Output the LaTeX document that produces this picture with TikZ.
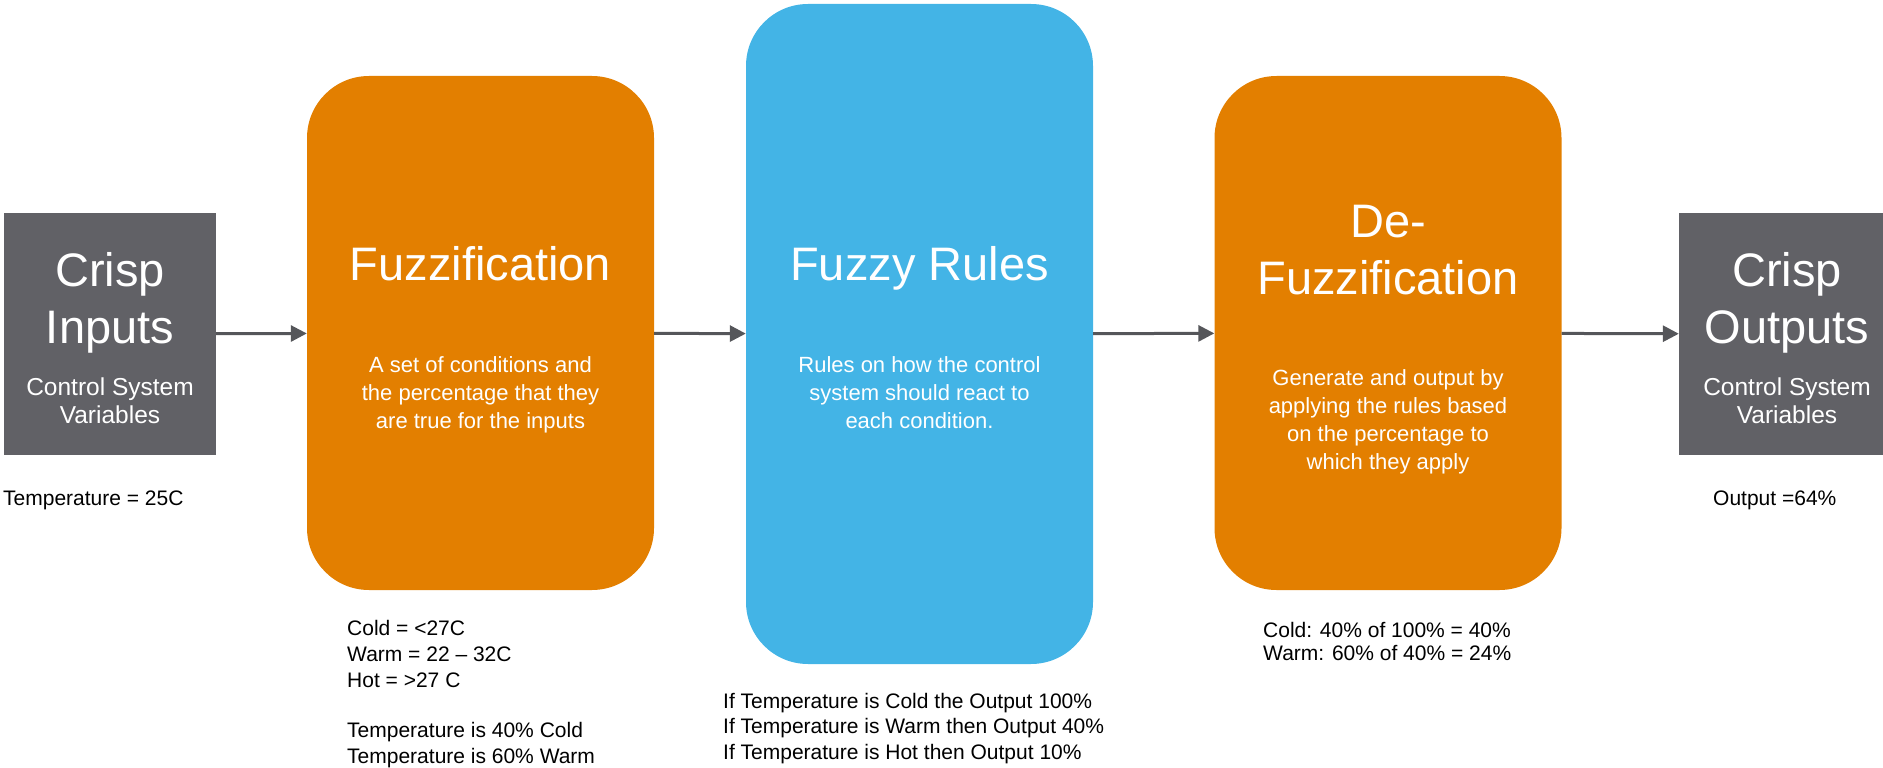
\documentclass[tikz,border=0pt]{standalone}
\usepackage{fontspec}
\setmainfont{Liberation Sans}
\usepackage{xcolor}
\usetikzlibrary{arrows.meta, positioning}

\definecolor{crispgray}{HTML}{616166}
\definecolor{fuzzorange}{HTML}{E37F00}
\definecolor{rulesblue}{HTML}{43B4E6}
\definecolor{arrowgray}{HTML}{55565A}

\begin{document}
\begin{tikzpicture}[
    x=1pt, y=-1pt,
    crispbox/.style={fill=crispgray, minimum width=212pt, minimum height=242pt, inner sep=0pt},
    stagebox/.style={rounded corners=62pt, minimum width=347pt, inner sep=0pt},
    headtext/.style={text=white, align=center, font=\fontsize{47}{57}\selectfont, anchor=base, inner sep=0pt},
    subtext/.style={text=white, align=center, font=\fontsize{24.5}{28}\selectfont, anchor=base, inner sep=0pt},
    bodytext/.style={text=white, align=center, font=\fontsize{22}{28}\selectfont, anchor=base, inner sep=0pt},
    notetext/.style={align=left, font=\fontsize{21}{26}\selectfont, anchor=base west, inner sep=0pt},
    arrow/.style={-{Triangle[length=16pt, width=16pt]}, line width=3pt, draw=arrowgray},
  ]
  \useasboundingbox (0,0) rectangle (1883,768);

  % Boxes
  \node[crispbox] (inp) at (110,334) {};
  \node[stagebox, fill=fuzzorange, minimum height=514pt] (fuzz) at (480.5,333) {};
  \node[stagebox, fill=rulesblue, minimum height=660pt] (rules) at (919.5,334) {};
  \node[stagebox, fill=fuzzorange, minimum height=514pt] (defuzz) at (1388,333) {};
  \node[crispbox, minimum width=204pt] (outp) at (1781,334) {};

  % Box texts (anchored on the last line)
  \node[headtext] (inpT) at (110,343) {Crisp\\Inputs};
  \node[subtext] (inpS) at (110,423) {Control System\\Variables};
  \node[headtext] (fuzzT) at (480.5,280) {Fuzzification};
  \node[bodytext] (fuzzB) at (480.5,428) {A set of conditions and\\the percentage that they\\are true for the inputs};
  \node[headtext] (rulesT) at (919.5,280) {Fuzzy Rules};
  \node[bodytext] (rulesB) at (919.5,428) {Rules on how the control\\system should react to\\each condition.};
  \node[headtext] (defuzzT) at (1388,294) {De-\\Fuzzification};
  \node[bodytext] (defuzzB) at (1388,469) {Generate and output by\\applying the rules based\\on the percentage to\\which they apply};
  \node[headtext] (outpT) at (1787,343) {Crisp\\Outputs};
  \node[subtext] (outpS) at (1787,423) {Control System\\Variables};

  % Notes below
  \node[notetext] (inpN) at (3,505) {Temperature = 25C};
  \node[notetext] (fuzzN) at (347,763) {Cold = <27C\\Warm = 22 -- 32C\\Hot = >27 C\\[24pt]Temperature is 40\% Cold\\Temperature is 60\% Warm};
  \node[notetext, font=\fontsize{21}{25.5}\selectfont] (rulesN) at (723,759) {If Temperature is Cold the Output 100\%\\If Temperature is Warm then Output 40\%\\If Temperature is Hot then Output 10\%};
  \node[notetext, font=\fontsize{21}{23}\selectfont] (defuzzN) at (1263,660) {Cold: 40\% of 100\% = 40\%\\Warm: 60\% of 40\% = 24\%};
  \node[notetext] (outpN) at (1713,505) {Output =64\%};

  % Arrows
  \draw[arrow] (inp) -- (fuzz);
  \draw[arrow] (fuzz) -- (rules);
  \draw[arrow] (rules) -- (defuzz);
  \draw[arrow] (defuzz) -- (outp);

\end{tikzpicture}
\end{document}
